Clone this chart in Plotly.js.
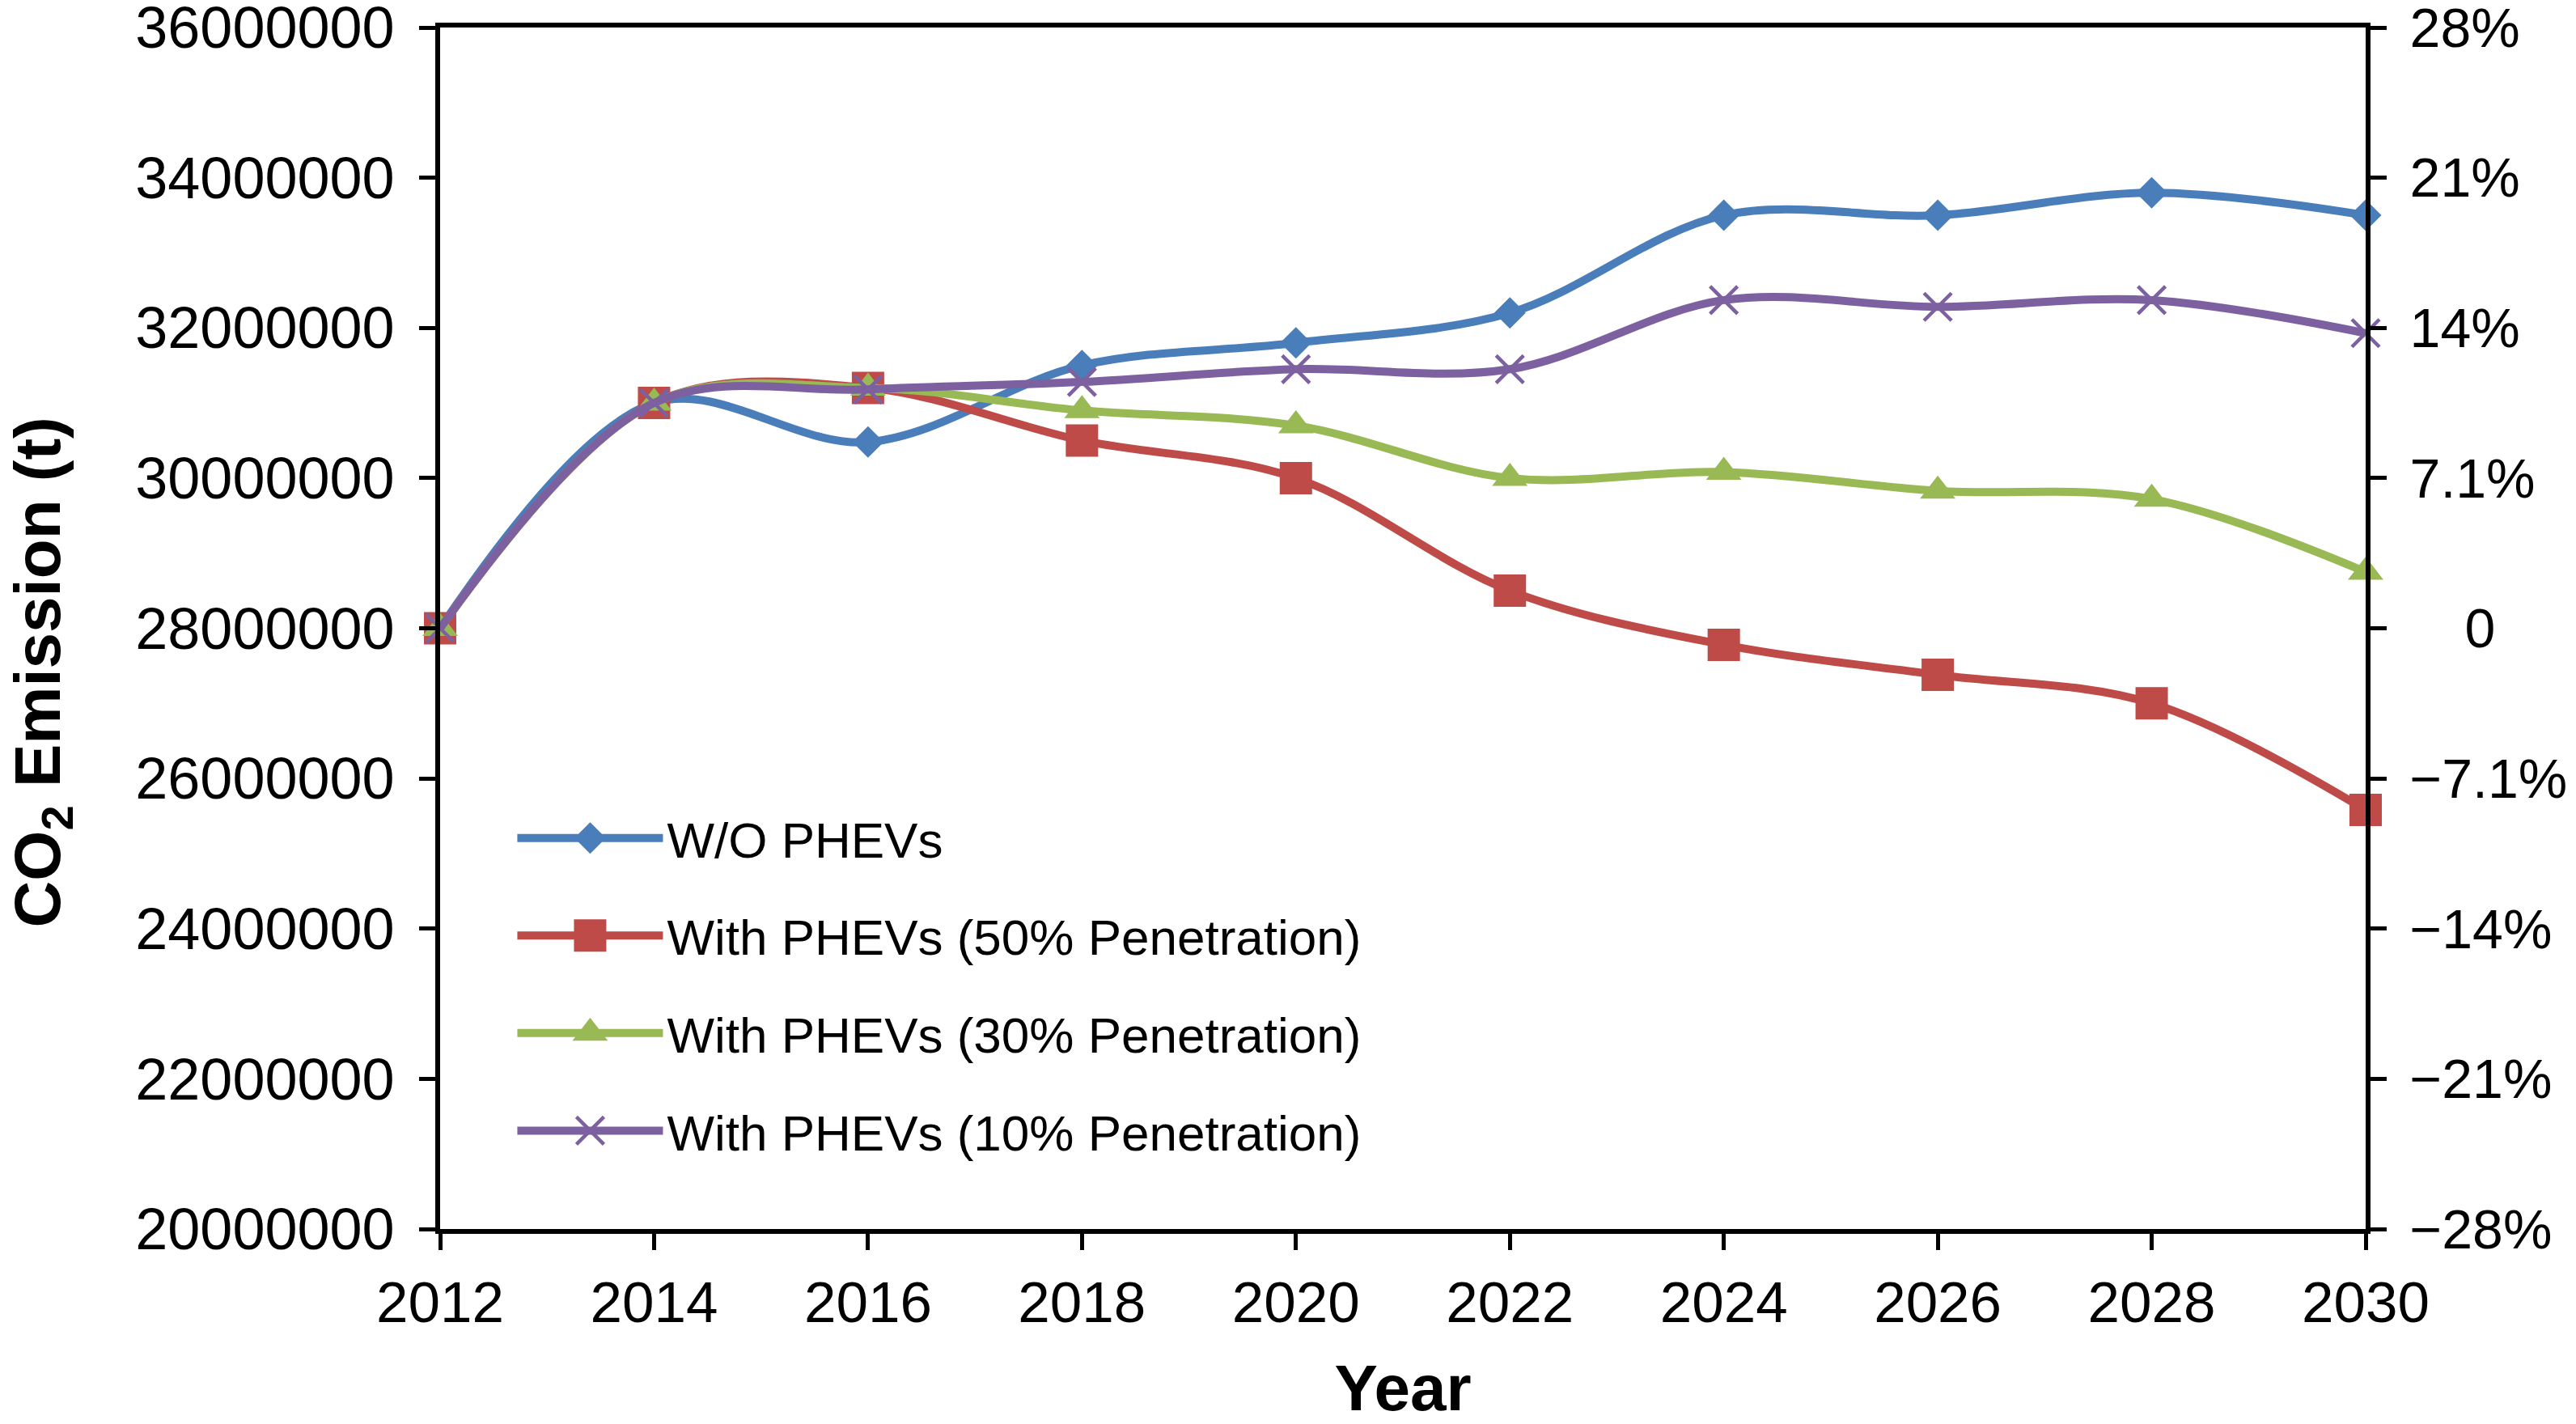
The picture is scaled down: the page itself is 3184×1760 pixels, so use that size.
<!DOCTYPE html>
<html>
<head>
<meta charset="utf-8">
<script src="https://cdn.plot.ly/plotly-3.0.1.min.js"></script>
<style>html,body{margin:0;padding:0;background:#fff;}#chart{width:3184px;height:1760px;}</style>
</head>
<body>
<div id="chart"></div>
<script>
// ---- data ----
const years = [2012, 2014, 2016, 2018, 2020, 2022, 2024, 2026, 2028, 2030];
const woPHEV   = [28000000, 31000000, 30480000, 31500000, 31800000, 32200000, 33500000, 33500000, 33800000, 33500000];
const phev50   = [28000000, 31000000, 31200000, 30500000, 30000000, 28500000, 27780000, 27380000, 27000000, 25580000];
const phev30   = [28000000, 31000000, 31200000, 30900000, 30700000, 30000000, 30080000, 29830000, 29720000, 28750000];
const phev10   = [28000000, 31000000, 31180000, 31280000, 31450000, 31450000, 32370000, 32280000, 32370000, 31930000];
const seriesNames = ["W/O PHEVs", "With PHEVs (50% Penetration)", "With PHEVs (30% Penetration)", "With PHEVs (10% Penetration)"];
const baseline = 28000000;
const leftTicks = [20000000, 22000000, 24000000, 26000000, 28000000, 30000000, 32000000, 34000000, 36000000];
const rightTickVals = [-8/28, -6/28, -4/28, -2/28, 0, 2/28, 4/28, 6/28, 8/28];
const rightTickText = ["\u221228%", "\u221221%", "\u221214%", "\u22127.1%", "\u20030", "7.1%", "14%", "21%", "28%"];

const FONT = "Liberation Sans, Arial, sans-serif";
const colors = ["#4a7ebb", "#be4b48", "#98b954", "#7d60a0"];
const symbols = ["diamond", "square", "triangle-up", "x-thin"];
const sizes = [30, 40, 38, 34];
const ys = [woPHEV, phev50, phev30, phev10];

const data = ys.map((y, i) => ({
  x: years, y: y, type: "scatter", mode: "lines+markers",
  name: seriesNames[i], legendgroup: "g" + i, cliponaxis: false,
  line: {color: colors[i], width: 10, shape: "spline", smoothing: 1},
  marker: {symbol: symbols[i], size: sizes[i], color: colors[i],
           line: {color: colors[i], width: i === 3 ? 4.5 : 0}}
}));
// relative change vs. 2012 baseline, on the right-hand axis (invisible, it only carries the axis)
data.push({
  x: years, y: woPHEV.map(v => (v - baseline) / baseline), yaxis: "y2",
  type: "scatter", mode: "lines", opacity: 0, showlegend: false, hoverinfo: "skip",
  line: {width: 0}
});

const axisCommon = {
  showgrid: false, zeroline: false, showline: true, linecolor: "#000", linewidth: 6,
  ticks: "outside", ticklen: 20, tickwidth: 5, tickcolor: "#000",
  ticklabeloverflow: "allow",
  tickfont: {family: FONT, size: 72, color: "#000"}
};

const layout = {
  width: 3184, height: 1760,
  margin: {l: 544, r: 260, t: 34, b: 241, pad: 0},
  paper_bgcolor: "#fff", plot_bgcolor: "#fff",
  font: {family: FONT, color: "#000"},
  showlegend: true,
  legend: {
    x: 0.038, y: 0.357, xanchor: "left", yanchor: "top",
    font: {family: FONT, size: 62, color: "#000"},
    itemwidth: 180, tracegroupgap: 37, bgcolor: "rgba(0,0,0,0)"
  },
  xaxis: Object.assign({}, axisCommon, {
    range: [2012, 2030], tickmode: "array", tickvals: years, ticktext: years.map(String),
    mirror: true, ticklabelstandoff: 4,
    tickfont: {family: FONT, size: 71, color: "#000"},
    title: {text: "<b>Year</b>", font: {family: FONT, size: 80, color: "#000"}, standoff: 44}
  }),
  yaxis: Object.assign({}, axisCommon, {
    range: [20000000, 36000000], tickmode: "array", tickvals: leftTicks,
    ticktext: leftTicks.map(v => String(v)), ticklabelstandoff: 16
  }),
  yaxis2: Object.assign({}, axisCommon, {
    overlaying: "y", side: "right", anchor: "x",
    range: [-8/28, 8/28], tickmode: "array", tickvals: rightTickVals, ticktext: rightTickText,
    tickfont: {family: FONT, size: 68, color: "#000"}, ticklabelstandoff: 15
  }),
  annotations: [{
    xref: "paper", yref: "paper", x: -0.2067, y: 0.463, xanchor: "center", yanchor: "middle",
    text: "<b>CO<sub>2</sub> Emission (t)</b>", textangle: -90, showarrow: false,
    font: {family: FONT, size: 80, color: "#000"}
  }]
};

Plotly.newPlot("chart", data, layout, {staticPlot: true}).then(gd => {
  gd.querySelectorAll(".legend .traces").forEach((g, i) => {
    const s = sizes[i] / 16;
    g.querySelectorAll(".legendpoints path.scatterpts").forEach(p => {
      const t = p.getAttribute("transform") || "";
      p.setAttribute("transform", t + " scale(" + s + ")");
      p.style.vectorEffect = "non-scaling-stroke";
    });
  });
});
</script>
</body>
</html>
